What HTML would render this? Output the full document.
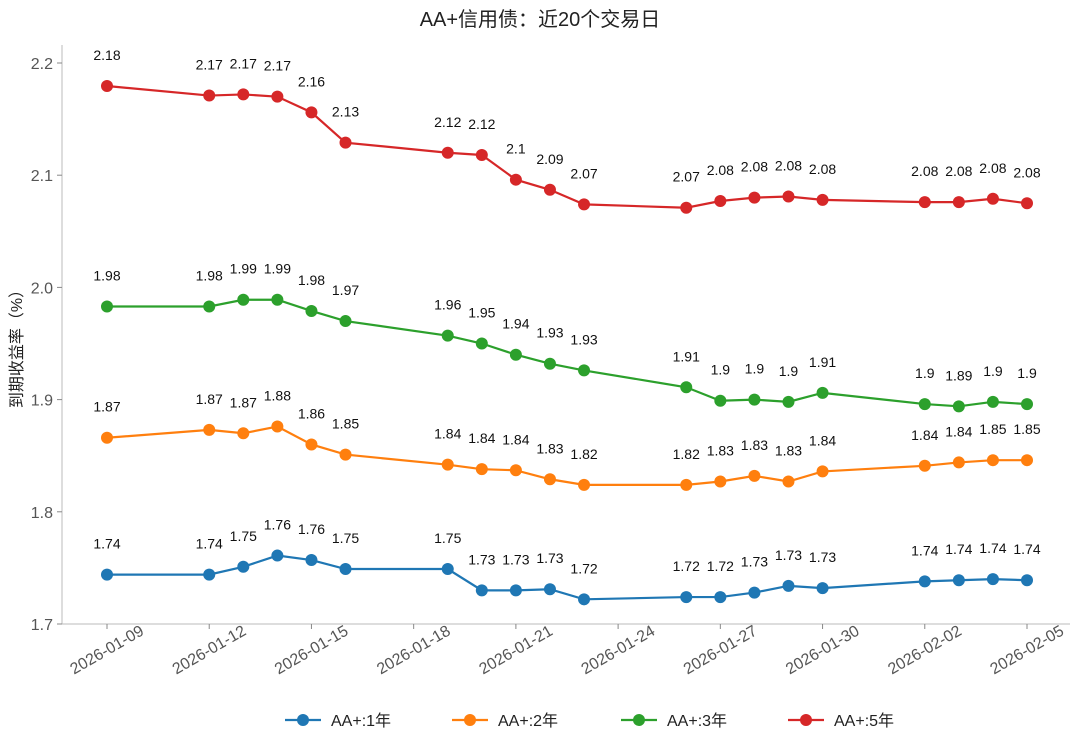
<!DOCTYPE html>
<html><head><meta charset="utf-8"><style>
body{margin:0;background:#fff;}
svg{display:block;font-family:"Liberation Sans","Noto Sans CJK SC",sans-serif;}
</style></head><body>
<svg id="chart" width="1080" height="746"></svg>
<script>
const dates=["2026-01-09","2026-01-12","2026-01-13","2026-01-14","2026-01-15","2026-01-16","2026-01-19","2026-01-20","2026-01-21","2026-01-22","2026-01-23","2026-01-26","2026-01-27","2026-01-28","2026-01-29","2026-01-30","2026-02-02","2026-02-03","2026-02-04","2026-02-05"];
const y1=[1.744,1.744,1.751,1.761,1.757,1.749,1.749,1.730,1.730,1.731,1.722,1.724,1.724,1.728,1.734,1.732,1.738,1.739,1.740,1.739];
const y2=[1.866,1.873,1.870,1.876,1.860,1.851,1.842,1.838,1.837,1.829,1.824,1.824,1.827,1.832,1.827,1.836,1.841,1.844,1.846,1.846];
const y3=[1.983,1.983,1.989,1.989,1.979,1.970,1.957,1.950,1.940,1.932,1.926,1.911,1.899,1.900,1.898,1.906,1.896,1.894,1.898,1.896];
const y5=[2.1795,2.171,2.172,2.170,2.156,2.129,2.120,2.118,2.096,2.087,2.074,2.071,2.077,2.080,2.081,2.078,2.076,2.076,2.079,2.075];
const seriesNames=["AA+:1年","AA+:2年","AA+:3年","AA+:5年"];
const yTicks=[1.7,1.8,1.9,2.0,2.1,2.2];
const xTicks=["2026-01-09","2026-01-12","2026-01-15","2026-01-18","2026-01-21","2026-01-24","2026-01-27","2026-01-30","2026-02-02","2026-02-05"];
const colors=["#1f77b4","#ff7f0e","#2ca02c","#d62728"];
const NS="http://www.w3.org/2000/svg";
const svg=document.getElementById('chart');
const t0=Date.parse("2026-01-09"),DAY=86400000;
function X(d){return 107+(Date.parse(d)-t0)/DAY*(920/27);}
function Y(v){return 624-(v-1.7)/0.5*561;}
function el(tag,attrs,parent){const e=document.createElementNS(NS,tag);for(const k in attrs)e.setAttribute(k,attrs[k]);(parent||svg).appendChild(e);return e;}
let t=el('text',{x:540,y:26,'text-anchor':'middle','font-size':20,fill:'#222'});t.textContent='AA+信用债：近20个交易日';


let a=el('line',{x1:62,y1:45,x2:62,y2:624,stroke:'#bbb'});


a=el('line',{x1:62,y1:624,x2:1070,y2:624,stroke:'#bbb'});


yTicks.forEach(v=>{el('line',{x1:57,x2:62,y1:Y(v),y2:Y(v),stroke:'#888'});
 const tt=el('text',{x:53,y:Y(v)+6,'text-anchor':'end','font-size':16,fill:'#555'});tt.textContent=v.toFixed(1);
 
 });
xTicks.forEach(d=>{const x=X(d);el('line',{x1:x,x2:x,y1:624,y2:629,stroke:'#888'});
 const tt=el('text',{x:x,y:655,'text-anchor':'middle','font-size':16,fill:'#555',transform:`rotate(-30 ${x} 650)`});tt.textContent=d;
 
 });
t=el('text',{x:22,y:345,'text-anchor':'middle','font-size':16,fill:'#222',transform:'rotate(-90 22 345)'});t.textContent='到期收益率（%）';


[y1,y2,y3,y5].forEach((s,i)=>{
 const g=el('g',{});
 
 
 el('polyline',{points:s.map((v,j)=>X(dates[j])+','+Y(v)).join(' '),fill:'none',stroke:colors[i],'stroke-width':2.2},g);
 s.forEach((v,j)=>{const c=el('circle',{cx:X(dates[j]),cy:Y(v),r:6,fill:colors[i]},g);
  
  
  const lb=el('text',{x:X(dates[j]),y:Y(v)-26,'text-anchor':'middle','font-size':14,fill:'#111'},g);
  lb.textContent=String(Number(v.toFixed(2)));
  
  });
});
const lx=[285,452,621,788];
seriesNames.forEach((n,i)=>{const g=el('g',{});
 
 
 el('line',{x1:lx[i],x2:lx[i]+36,y1:720,y2:720,stroke:colors[i],'stroke-width':2.2},g);
 el('circle',{cx:lx[i]+18,cy:720,r:6,fill:colors[i]},g);
 const tt=el('text',{x:lx[i]+46,y:726,'font-size':16,fill:'#222'},g);tt.textContent=n;});
</script>
</body></html>
